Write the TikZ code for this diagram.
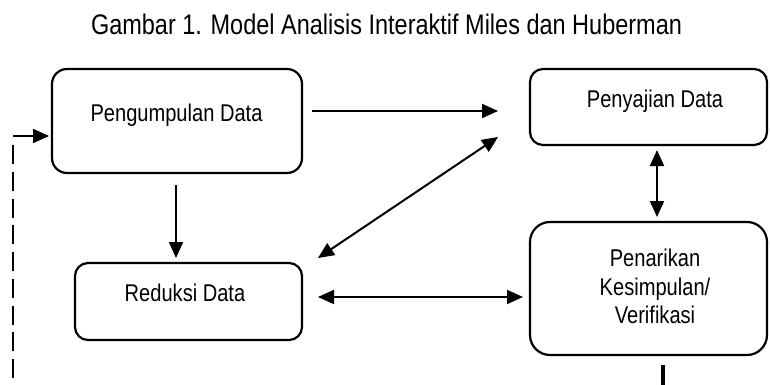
\documentclass[tikz,border=0pt]{standalone}
\usepackage{fontspec}
\setmainfont{Liberation Sans}[FakeStretch=0.83]
\usetikzlibrary{arrows.meta,calc}
\begin{document}
\begin{tikzpicture}[x=1pt,y=-1pt,
  boxs/.style={draw=black, line width=2.2pt, inner sep=0pt},
  txt/.style={font=\fontsize{24.2}{28.5}\selectfont, inner sep=0pt},
  arr/.style={line width=2pt, -{Triangle[length=16pt,width=14pt]}},
  darr/.style={line width=2pt, {Triangle[length=16pt,width=14pt]}-{Triangle[length=16pt,width=14pt]}},
  loopline/.style={line width=2pt, dash pattern=on 19pt off 7.75pt}
]
\useasboundingbox (0,0) rectangle (770,385);
\fill[white] (0,0) rectangle (770,385);

% title
\node[font=\fontsize{28.3}{34}\selectfont, inner sep=0pt, anchor=base] (title) at (386.5,35) {Gambar 1. Model Analisis Interaktif Miles dan Huberman};

% boxes
\node[boxs, rounded corners=15pt, minimum width=250pt, minimum height=104pt] (peng) at (177,121) {};
\node[boxs, rounded corners=13pt, minimum width=227pt, minimum height=77pt] (redu) at (188.5,301.5) {};
\node[boxs, rounded corners=13pt, minimum width=237pt, minimum height=76pt] (peny) at (648.5,107) {};
\node[boxs, rounded corners=20pt, minimum width=237pt, minimum height=133pt] (pena) at (648.5,288.5) {};

% texts
\node[txt, anchor=base] (pengT) at (176.5,121.5) {Pengumpulan Data};
\node[txt, anchor=base] (reduT) at (185,301) {Reduksi Data};
\node[txt, anchor=base] (penyT) at (655,108) {Penyajian Data};
\node[txt, align=center] (penaT) at (655,286.5) {Penarikan\\Kesimpulan/\\Verifikasi};

% connector end points
\coordinate (a1s) at (312,111);
\coordinate (a1e) at (498,111);
\coordinate (a2s) at (176,185);
\coordinate (a2e) at (176,258);
\coordinate (a3s) at (318,258);
\coordinate (a3e) at (498,137);
\coordinate (a4s) at (318,297);
\coordinate (a4e) at (523,297);
\coordinate (a5s) at (657,150);
\coordinate (a5e) at (657,217);
\coordinate (lb) at (13,385);
\coordinate (lt) at (13,145);
\coordinate (lc) at (13,136);
\coordinate (le) at (49,136);
\coordinate (ss) at (663,365);
\coordinate (se) at (663,385);

\draw[arr] (a1s) -- (a1e);
\draw[arr] (a2s) -- (a2e);
\draw[darr] (a3s) -- (a3e);
\draw[darr] (a4s) -- (a4e);
\draw[darr] (a5s) -- (a5e);
\draw[loopline] (lt) -- (lb);
\draw[arr] (lc) -- (le);
\draw[line width=4pt] (ss) -- (se);
\end{tikzpicture}
\end{document}
